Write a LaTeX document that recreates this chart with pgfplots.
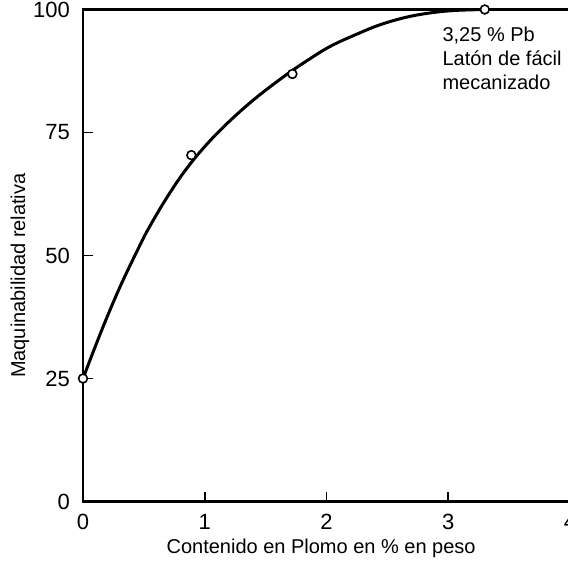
\documentclass[border=0pt]{standalone}
\usepackage{fontspec}
\setmainfont{Liberation Sans}
\usepackage{pgfplots}
\pgfplotsset{compat=1.18}
\begin{document}
\begin{tikzpicture}
\begin{axis}[
  at={(0,0)}, anchor=south west,
  scale only axis, width=243.5pt, height=246pt,
  xmin=0, xmax=4, ymin=0, ymax=100,
  xtick={0,1,2,3,4}, ytick={0,25,50,75,100},
  xtick pos=bottom, ytick pos=left,
  tick align=inside, major tick length=5pt,
  tick style={line width=0.8pt, black},
  axis line style={line width=1.4pt},
  ticklabel style={font=\fontsize{11}{13}\selectfont},
  /pgf/number format/assume math mode=true,
  xticklabel style={yshift=-3pt},
  yticklabel style={xshift=-3pt},
  xlabel={Contenido en Plomo en \% en peso},
  ylabel={Maquinabilidad relativa},
  xlabel style={at={(axis description cs:0.489,-0.0955)}, anchor=center, font=\fontsize{10}{12}\selectfont},
  ylabel style={at={(axis description cs:-0.1294,0.459)}, anchor=center, font=\fontsize{10}{12}\selectfont},
  clip=false,
]
\addplot[black, line width=1.5pt, smooth, tension=0.6] coordinates {
  (0,25) (0.15,34.6) (0.30,43.4) (0.45,51.2) (0.55,56.0) (0.71,62.6)
  (0.88,68.6) (1.10,74.8) (1.37,81.0) (1.64,86.2) (1.84,89.6) (2.03,92.5)
  (2.25,95.0) (2.44,96.9) (2.65,98.4) (2.85,99.3) (3.05,99.8) (3.30,100)
};
\addplot[only marks, mark=*, mark size=2.2pt, mark options={fill=white, draw=black, line width=0.8pt}] coordinates {
  (0,25) (0.89,70.4) (1.72,86.9) (3.30,100)
};
\node[anchor=north west, align=left, inner sep=0pt, font=\fontsize{10}{12}\selectfont] at (axis cs:2.95,96.5) {3,25 \% Pb\\Latón de fácil\\mecanizado};
\end{axis}
\pgfresetboundingbox
\useasboundingbox (-41.5pt,-31.15pt) rectangle (242.5pt,250.75pt);
\end{tikzpicture}
\end{document}
